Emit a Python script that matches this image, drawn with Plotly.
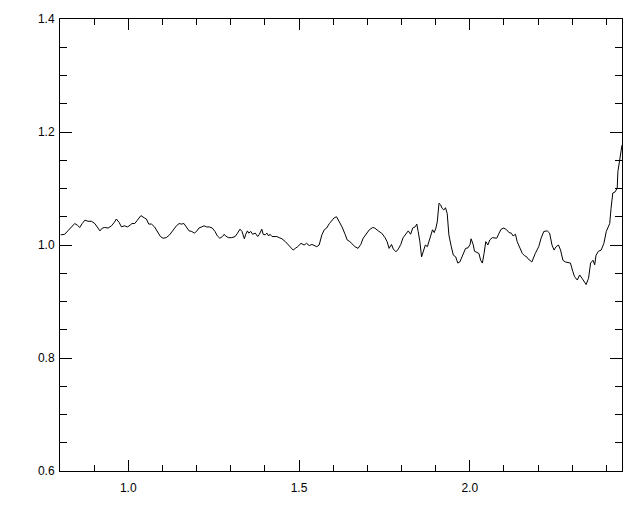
import plotly.graph_objects as go

wavelength = [
    0.802, 0.814, 0.823, 0.833, 0.843, 0.851, 0.858, 0.865, 0.873, 0.882,
    0.892, 0.902, 0.910, 0.917, 0.924, 0.931, 0.941, 0.951, 0.959, 0.965,
    0.973, 0.980, 0.988, 0.998, 1.005, 1.011, 1.019, 1.027, 1.037, 1.047,
    1.053, 1.060, 1.068, 1.077, 1.085, 1.094, 1.102, 1.111, 1.121, 1.131,
    1.141, 1.149, 1.156, 1.163, 1.170, 1.178, 1.186, 1.193, 1.200, 1.207,
    1.215, 1.222, 1.229, 1.237, 1.246, 1.254, 1.261, 1.268, 1.276, 1.281,
    1.285, 1.293, 1.303, 1.313, 1.320, 1.327, 1.333, 1.337, 1.340, 1.344,
    1.349, 1.353, 1.359, 1.364, 1.372, 1.379, 1.384, 1.391, 1.395, 1.401,
    1.406, 1.411, 1.415, 1.421, 1.435, 1.442, 1.450, 1.460, 1.470, 1.476,
    1.483, 1.489, 1.496, 1.506, 1.515, 1.522, 1.530, 1.538, 1.545, 1.552,
    1.559, 1.567, 1.574, 1.581, 1.589, 1.596, 1.603, 1.610, 1.618, 1.626,
    1.635, 1.641, 1.649, 1.657, 1.664, 1.673, 1.681, 1.688, 1.696, 1.706,
    1.716, 1.722, 1.732, 1.742, 1.752, 1.758, 1.764, 1.771, 1.776, 1.784,
    1.791, 1.798, 1.805, 1.813, 1.820, 1.827, 1.833, 1.840, 1.845, 1.849,
    1.854, 1.859, 1.864, 1.870, 1.876, 1.881, 1.886, 1.891, 1.896, 1.901,
    1.905, 1.910, 1.915, 1.919, 1.924, 1.929, 1.934, 1.939, 1.946, 1.952,
    1.959, 1.965, 1.971, 1.978, 1.983, 1.988, 1.995, 2.001, 2.004, 2.010,
    2.014, 2.022, 2.027, 2.032, 2.037, 2.042, 2.047, 2.053, 2.059, 2.066,
    2.073, 2.079, 2.086, 2.092, 2.100, 2.108, 2.115, 2.122, 2.127, 2.134,
    2.139, 2.147, 2.154, 2.161, 2.167, 2.170, 2.182, 2.192, 2.202, 2.209,
    2.217, 2.227, 2.234, 2.241, 2.247, 2.253, 2.260, 2.266, 2.273, 2.280,
    2.288, 2.295, 2.302, 2.307, 2.315, 2.322, 2.329, 2.334, 2.341, 2.348,
    2.354, 2.361, 2.366, 2.370, 2.377, 2.385, 2.393, 2.400, 2.410, 2.414,
    2.419, 2.426, 2.432, 2.434, 2.439, 2.444, 2.446,
]

flux_ratio = [
    1.018, 1.019, 1.025, 1.032, 1.038, 1.035, 1.031, 1.038, 1.044, 1.042,
    1.042, 1.038, 1.032, 1.025, 1.030, 1.031, 1.030, 1.034, 1.040, 1.046,
    1.040, 1.032, 1.034, 1.032, 1.035, 1.038, 1.038, 1.044, 1.052, 1.048,
    1.046, 1.037, 1.037, 1.032, 1.024, 1.015, 1.012, 1.013, 1.018, 1.027,
    1.034, 1.038, 1.037, 1.038, 1.032, 1.025, 1.024, 1.021, 1.024, 1.030,
    1.032, 1.034, 1.032, 1.032, 1.030, 1.024, 1.016, 1.012, 1.015, 1.019,
    1.016, 1.013, 1.013, 1.015, 1.021, 1.028, 1.024, 1.015, 1.011, 1.019,
    1.025, 1.021, 1.024, 1.019, 1.021, 1.015, 1.019, 1.028, 1.019, 1.018,
    1.021, 1.016, 1.019, 1.015, 1.015, 1.013, 1.011, 1.006, 1.000, 0.995,
    0.991, 0.994, 0.997, 1.003, 1.000, 1.003, 0.999, 1.001, 0.999, 0.997,
    1.000, 1.018, 1.027, 1.030, 1.038, 1.044, 1.048, 1.050, 1.041, 1.032,
    1.019, 1.009, 1.006, 1.001, 0.997, 0.994, 1.001, 1.012, 1.019, 1.027,
    1.031, 1.030, 1.025, 1.021, 1.013, 1.006, 0.994, 1.001, 0.993, 0.988,
    0.993, 1.001, 1.013, 1.019, 1.025, 1.019, 1.030, 1.032, 1.037, 1.024,
    1.006, 0.979, 0.991, 1.000, 0.997, 1.006, 1.019, 1.027, 1.022, 1.030,
    1.041, 1.074, 1.071, 1.065, 1.062, 1.066, 1.056, 1.018, 0.997, 0.982,
    0.979, 0.968, 0.970, 0.979, 0.985, 0.994, 0.995, 1.001, 1.011, 1.001,
    0.989, 0.987, 0.985, 0.973, 0.968, 0.985, 1.006, 1.000, 1.009, 1.013,
    1.013, 1.012, 1.021, 1.028, 1.030, 1.027, 1.022, 1.021, 1.016, 1.019,
    1.006, 0.994, 0.985, 0.981, 0.979, 0.976, 0.970, 0.985, 0.997, 1.012,
    1.024, 1.025, 1.021, 1.000, 0.991, 0.997, 1.000, 0.991, 0.973, 0.970,
    0.969, 0.968, 0.953, 0.944, 0.938, 0.947, 0.941, 0.936, 0.930, 0.941,
    0.968, 0.973, 0.965, 0.982, 0.989, 0.991, 1.003, 1.024, 1.038, 1.065,
    1.092, 1.094, 1.101, 1.130, 1.150, 1.171, 1.177,
]

x_tick_vals = [1.0, 1.5, 2.0]
x_tick_text = ["1.0", "1.5", "2.0"]
y_tick_vals = [0.6, 0.8, 1.0, 1.2, 1.4]
y_tick_text = ["0.6", "0.8", "1.0", "1.2", "1.4"]

fig = go.Figure()
fig.add_trace(go.Scatter(
    x=wavelength, y=flux_ratio, mode="lines",
    line=dict(color="black", width=1), showlegend=False,
))

font = dict(family="Liberation Sans, Arial, sans-serif", size=12, color="black")

fig.update_xaxes(
    range=[0.8, 2.446], showgrid=False, zeroline=False, automargin=False,
    showline=True, linecolor="black", linewidth=1, mirror="allticks",
    ticks="inside", ticklen=11, tickwidth=1, tickcolor="black",
    tickvals=x_tick_vals, ticktext=x_tick_text, tickfont=font,
    ticklabelstandoff=6,
    minor=dict(ticks="inside", ticklen=6, dtick=0.1, tick0=0.8,
               tickcolor="black", tickwidth=1, showgrid=False),
)
fig.update_yaxes(
    range=[0.6, 1.4], showgrid=False, zeroline=False, automargin=False,
    showline=True, linecolor="black", linewidth=1, mirror="allticks",
    ticks="inside", ticklen=12, tickwidth=1, tickcolor="black",
    tickvals=y_tick_vals, ticktext=y_tick_text, tickfont=font,
    ticklabelstandoff=2,
    minor=dict(ticks="inside", ticklen=7, dtick=0.05, tick0=0.6,
               tickcolor="black", tickwidth=1, showgrid=False),
)
fig.update_layout(
    width=624, height=496,
    margin=dict(l=52, r=10, t=11, b=33, autoexpand=False),
    paper_bgcolor="white", plot_bgcolor="white",
)
fig.write_html("out.html")
